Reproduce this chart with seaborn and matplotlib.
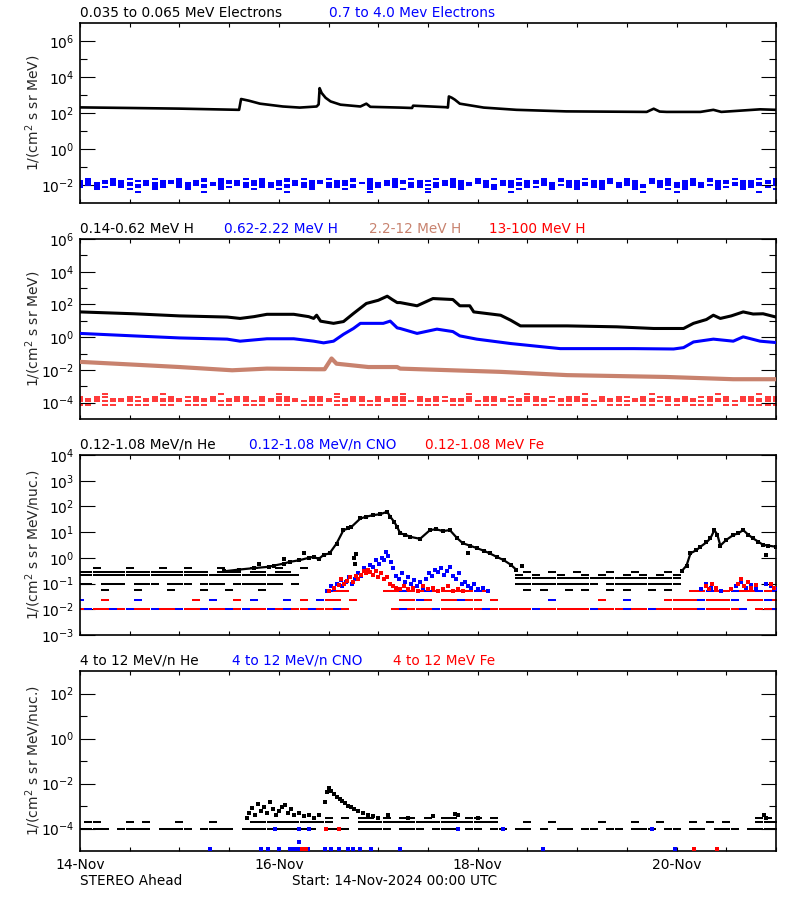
import numpy as np
import pandas as pd
import seaborn as sns
import matplotlib.pyplot as plt
from matplotlib.ticker import FixedLocator, NullFormatter, LogFormatterSciNotation

# time axis: days after 14-Nov-2024 00:00 UTC
DAY_TICKS = [0, 2, 4, 6]
DAY_LABELS = ['14-Nov', '16-Nov', '18-Nov', '20-Nov']
HALF_DAYS = [0.5, 1, 1.5, 2.5, 3, 3.5, 4.5, 5, 5.5, 6.5, 7]

# count-level rows are read in 2-hour bins (85 bins, 7 days); '1' = points shown on that level
BIN_T = np.arange(85) / 12

# ---- panel 1: electrons ----
e_low_t = [0, 0.5, 1.0, 1.6, 1.62, 1.7, 1.81, 2.04, 2.21, 2.38, 2.40, 2.41, 2.43, 2.47, 2.52,
           2.62, 2.82, 2.88, 2.92, 3.22, 3.34, 3.35, 3.68, 3.70, 3.71, 3.74, 3.77, 3.82, 4.06,
           4.39, 4.89, 5.70, 5.77, 5.83, 5.9, 6.24, 6.37, 6.45, 6.84, 7.0]
e_low_v = [205, 190, 175, 150, 600, 480, 330, 230, 200, 230, 300, 2400, 1300, 700, 440,
           290, 230, 330, 220, 200, 190, 255, 210, 200, 830, 700, 550, 330, 200,
           150, 123, 115, 173, 120, 115, 115, 150, 115, 160, 150]

e_high_levels = [2.2e-2, 1.6e-2, 1.25e-2, 1.0e-2, 8e-3, 6e-3, 4e-3]
e_high_masks = [
    "010010100100 100101001010 010100100101 001010010100 101001001010 010010100101 001010010010 1",
    "110111011011 101101110110 111011011101 011101101110 110110111011 101110110111 011011101101 1",
    "111111101111 111011111111 101111111011 111111011111 110111111101 111111110111 111101111111 1",
    "111011111110 111111011111 111110111101 111011111111 011111101111 111101111011 111111011110 1",
    "101101010110 110101101011 010110110101 101011010110 011010110101 101101011010 110101101101 0",
    "001000100100 010001000100 100010001001 000100100010 001001000100 100100010001 010001001000 1",
    "000000010000 000100000000 010000000001 000000100000 000010000000 000000001000 100000000010 0",
]

# ---- panel 2: protons ----
h1_t = [0.0, 0.54, 1.0, 1.48, 1.61, 1.75, 1.88, 2.15, 2.30, 2.35, 2.38, 2.42, 2.55, 2.65, 2.75,
        2.88, 3.0, 3.09, 3.14, 3.19, 3.22, 3.39, 3.55, 3.75, 3.82, 3.92, 3.96, 4.23, 4.33, 4.43,
        4.90, 5.40, 5.77, 6.07, 6.17, 6.30, 6.37, 6.44, 6.55, 6.67, 6.77, 6.87, 7.0]
h1_v = [35, 27, 20, 17, 14, 18, 25, 25, 18, 14, 22, 9.5, 7, 9, 28,
        115, 180, 320, 200, 130, 130, 83, 230, 200, 83, 83, 35, 22, 11, 4.9,
        4.9, 4.3, 3.4, 3.4, 7, 12, 22, 14, 20, 35, 26, 27, 17]

h2_t = [0, 0.54, 1.0, 1.48, 1.61, 1.88, 2.15, 2.35, 2.45, 2.55, 2.65, 2.75, 2.82, 3.05, 3.12,
        3.19, 3.22, 3.39, 3.59, 3.75, 3.82, 3.99, 4.33, 4.83, 5.57, 5.97, 6.07, 6.17, 6.37,
        6.57, 6.67, 6.84, 7.0]
h2_v = [1.7, 1.2, 0.9, 0.76, 0.57, 0.8, 0.8, 0.57, 0.45, 0.57, 1.5, 3.4, 7, 7, 9.6,
        3.7, 3.4, 1.7, 3.1, 2.2, 1.2, 0.76, 0.41, 0.2, 0.2, 0.19, 0.23, 0.51, 0.76,
        0.57, 1.05, 0.57, 0.47]

h3_t = [0, 0.54, 1.0, 1.53, 1.88, 2.38, 2.46, 2.53, 2.58, 2.9, 3.19, 3.22, 4.23, 4.9, 5.9, 6.57, 7.0]
h3_v = [0.031, 0.021, 0.015, 0.0095, 0.012, 0.011, 0.011, 0.05, 0.024, 0.015, 0.015, 0.012,
        0.0076, 0.0048, 0.0037, 0.0027, 0.0027]

h4_levels = [3.2e-4, 2.2e-4, 1.6e-4, 1.2e-4, 6.8e-5]
h4_masks = [
    "000100000010 000001000000 100000010000 000100000001 000000100000 010000000100 000001000010 0",
    "101100110101 011010011010 110011010110 101101011001 011010110101 100101101011 010110101101 1",
    "111011101111 101110111011 111011101110 111101110111 011101111011 110111011101 111011101111 1",
    "111111111111 111111111111 111111111111 111111111111 111111111111 111111111111 111111111111 1",
    "110110111011 011101101110 110111011011 101101110110 111011011011 011011101101 101110110111 1",
]

# ---- panel 3: 0.12-1.08 MeV/n heavy ions ----
he_quiet_levels = [0.4, 0.29, 0.21, 0.16, 0.1, 0.055]
he_quiet_masks = [
    "001000100010 010001000100 100100000000 000000000000 000000000000 000000000000 000000000000 0",
    "111111111111 111101110110 110000000000 000000000000 000000100100 100010010001 000000000000 0",
    "111111111111 111111111111 111000000000 000000000000 000001010010 010100101010 100000000000 0",
    "000000000000 000000000000 000000000000 000000000000 000001111111 111111111111 100000000000 0",
    "110111011101 110111011111 101000000000 000000000000 000001111111 111011111111 100000000000 0",
    "000100010001 000100100010 000000000000 000000000000 000000101001 010010100101 000000000000 0",
]
he_ev1_t = [1.45, 1.6, 1.75, 1.9, 1.95, 2.05, 2.11, 2.2, 2.3, 2.35, 2.4, 2.45, 2.51, 2.58, 2.65,
            2.70, 2.73, 2.82, 2.88, 2.95, 3.02, 3.09, 3.12, 3.16, 3.19, 3.22, 3.27, 3.32, 3.42,
            3.52, 3.58, 3.65, 3.72, 3.79, 3.85, 3.92, 3.99, 4.06, 4.12, 4.19, 4.26, 4.33, 4.39]
he_ev1_v = [0.3, 0.35, 0.4, 0.45, 0.5, 0.6, 0.7, 0.8, 1.0, 1.1, 0.9, 1.3, 1.5, 3.6, 12,
            14, 16, 34, 40, 46, 50, 62, 40, 25, 16, 9, 8, 6.6, 5.5,
            12, 13, 11, 12, 6, 3.7, 3.0, 2.4, 1.9, 1.5, 1.1, 0.82, 0.55, 0.34]
he_ev2_t = [6.05, 6.1, 6.14, 6.2, 6.24, 6.3, 6.34, 6.38, 6.41, 6.44, 6.5, 6.57, 6.62, 6.67,
            6.72, 6.77, 6.82, 6.87, 6.92, 7.0]
he_ev2_v = [0.3, 0.5, 1.5, 2.0, 2.7, 4, 5.7, 12, 8, 3, 5, 7.7, 9, 12, 8, 5.7, 4.3, 3.2, 3.0, 2.7]
he_stray = [(2.76, 1.0), (2.77, 0.6), (2.78, 1.4), (2.05, 0.9), (2.25, 1.6), (1.8, 0.6),
            (6.9, 1.3), (4.45, 0.5), (3.9, 1.6)]

ion_levels = [5e-2, 2.3e-2, 1.05e-2]
fe_masks = [
    "000000000000 000000000000 000000111000 011111111111 110000000000 000000000000 001101111111 1",
    "000100000000 001000010000 000100110100 000110101101 101000000000 000100000001 111011110111 1",
    "101101011011 011011010110 101101101000 001111111111 111111101111 111111111111 111011111011 1",
]
cno_masks = [
    "000000000000 000000000000 000000100000 000100100000 100000000000 000000000000 000010010010 1",
    "100000010000 000010000100 010001000000 000001000010 000000000100 000000100000 000100010001 0",
    "010010100100 100100101001 010010010000 000100010000 010000010000 001000100100 000100001000 1",
]
cno_event = [(2.48, 0.05), (2.52, 0.08), (2.55, 0.06), (2.58, 0.1), (2.62, 0.14), (2.64, 0.08),
             (2.68, 0.12), (2.71, 0.18), (2.74, 0.1), (2.77, 0.15), (2.8, 0.25), (2.83, 0.2),
             (2.86, 0.4), (2.89, 0.3), (2.92, 0.55), (2.95, 0.45), (2.98, 0.8), (3.01, 0.6),
             (3.04, 1.0), (3.06, 0.8), (3.08, 1.7), (3.1, 1.2), (3.13, 0.7), (3.15, 0.4),
             (3.18, 0.2), (3.21, 0.15), (3.24, 0.25), (3.27, 0.12), (3.3, 0.18), (3.33, 0.1),
             (3.36, 0.14), (3.39, 0.08), (3.42, 0.12), (3.45, 0.07), (3.48, 0.15), (3.51, 0.25),
             (3.54, 0.2), (3.57, 0.35), (3.6, 0.28), (3.63, 0.4), (3.66, 0.22), (3.69, 0.32),
             (3.72, 0.45), (3.75, 0.2), (3.78, 0.15), (3.81, 0.25), (3.84, 0.1), (3.87, 0.12),
             (3.9, 0.08), (3.93, 0.07), (3.96, 0.1), (4.0, 0.06), (4.05, 0.07), (4.1, 0.05),
             (6.25, 0.06), (6.3, 0.1), (6.35, 0.07), (6.45, 0.05), (6.6, 0.08), (6.65, 0.12),
             (6.7, 0.07), (6.75, 0.09), (6.8, 0.06), (6.9, 0.1), (6.95, 0.08), (7.0, 0.06)]
fe_event = [(2.5, 0.05), (2.55, 0.07), (2.6, 0.09), (2.63, 0.15), (2.66, 0.1), (2.69, 0.13),
            (2.72, 0.18), (2.75, 0.12), (2.78, 0.2), (2.8, 0.15), (2.83, 0.22), (2.86, 0.3),
            (2.88, 0.25), (2.9, 0.35), (2.92, 0.28), (2.95, 0.22), (2.98, 0.3), (3.0, 0.18),
            (3.03, 0.25), (3.06, 0.15), (3.09, 0.18), (3.12, 0.1), (3.15, 0.08), (3.18, 0.07),
            (3.22, 0.06), (3.26, 0.08), (3.3, 0.06), (3.35, 0.07), (3.4, 0.05), (3.45, 0.08),
            (3.5, 0.06), (3.55, 0.07), (3.6, 0.05), (3.65, 0.06), (3.7, 0.08), (3.75, 0.05),
            (3.8, 0.06), (3.85, 0.05),
            (6.3, 0.08), (6.33, 0.06), (6.36, 0.1), (6.4, 0.07), (6.55, 0.06), (6.62, 0.1),
            (6.65, 0.15), (6.68, 0.08), (6.72, 0.12), (6.75, 0.07), (6.8, 0.09), (6.95, 0.1),
            (6.98, 0.07)]

# ---- panel 4: 4-12 MeV/n heavy ions ----
he4_levels = [3e-4, 2e-4, 1e-4]
he4_masks = [
    "000000000000 000000000000 000000101011 010110101101 101000000000 000000000000 000000000011 0",
    "011000101000 100010000111 111111100011 111111111111 111000100100 000100010010 001010100011 1",
    "111101111011 110111101111 111110111011 110111011101 101101101011 011011011101 101101110111 1",
]
he4_event = [(1.68, 3e-4), (1.7, 5e-4), (1.73, 8e-4), (1.76, 4e-4), (1.79, 1.2e-3), (1.82, 6e-4),
             (1.85, 9e-4), (1.88, 5e-4), (1.91, 1.5e-3), (1.94, 7e-4), (1.97, 4e-4), (2.0, 6e-4),
             (2.03, 9e-4), (2.06, 1.1e-3), (2.09, 5e-4), (2.12, 7e-4), (2.15, 4e-4), (2.2, 5e-4),
             (2.25, 3.5e-4), (2.3, 4e-4), (2.35, 3e-4), (2.4, 4e-4),
             (2.46, 1.5e-3), (2.48, 4e-3), (2.5, 6e-3), (2.52, 4.5e-3), (2.55, 3.5e-3),
             (2.58, 2.5e-3), (2.61, 2.1e-3), (2.64, 1.6e-3), (2.67, 1.3e-3), (2.7, 1e-3),
             (2.73, 9e-4), (2.76, 7e-4), (2.8, 6e-4), (2.85, 5e-4), (2.9, 4e-4), (2.95, 3.5e-4),
             (3.0, 3e-4), (3.1, 4e-4), (3.3, 3e-4), (3.55, 3.5e-4), (3.8, 4e-4), (4.0, 3e-4),
             (3.77, 4.5e-4), (6.88, 4e-4), (6.9, 3e-4)]
cno4_points = [(1.31, 1.2e-5), (1.82, 1.2e-5), (1.89, 1.2e-5), (2.0, 1.2e-5), (2.11, 1.2e-5),
               (2.15, 1.2e-5), (2.19, 1.2e-5), (2.29, 1.2e-5), (2.46, 1.2e-5), (2.52, 1.2e-5),
               (2.60, 1.2e-5), (2.70, 1.2e-5), (2.75, 1.2e-5), (2.82, 1.2e-5), (2.93, 1.2e-5),
               (3.22, 1.2e-5), (4.66, 1.2e-5), (5.98, 1.2e-5), (2.2, 2.5e-5),
               (1.96, 1e-4), (2.2, 1e-4), (2.3, 1e-4), (3.8, 1e-4), (4.25, 1e-4), (5.75, 1e-4)]
fe4_points = [(2.23, 1.2e-5), (2.27, 1.2e-5), (6.18, 1.2e-5), (6.41, 1.2e-5),
              (2.47, 1e-4), (2.6, 1e-4)]

BLUE = '#0000FF'
RED = '#FF0000'
BROWN = '#C8826E'

sns.set_theme(style='ticks', rc={'axes.edgecolor': 'black', 'xtick.color': 'black',
                                 'ytick.color': 'black', 'axes.linewidth': 1.2})
plt.rcParams['font.family'] = ['DejaVu Sans']

W, H = 800, 900
fig = plt.figure(figsize=(8, 9), dpi=100)


def level_points(levels, masks):
    rows = []
    for lev, m in zip(levels, masks):
        m = m.replace(' ', '')[:85]
        for i, c in enumerate(m):
            if c == '1':
                rows.append((BIN_T[i], lev))
    return pd.DataFrame(rows, columns=['t', 'flux'])


def dashes(ax, levels, masks, color, z=2, lw=1.45, s=26):
    df = level_points(levels, masks)
    sns.scatterplot(data=df, x='t', y='flux', marker='_', s=s, linewidth=lw,
                    color=color, ax=ax, zorder=z, legend=False, antialiased=False)


def trace(ax, t, v, color, lw=2.0, z=3):
    sns.lineplot(x=t, y=v, color=color, lw=lw, ax=ax, estimator=None, sort=False, zorder=z)


def dots(ax, pts, color, z=4, s=6):
    df = pd.DataFrame(pts, columns=['t', 'flux'])
    sns.scatterplot(data=df, x='t', y='flux', marker='s', s=s, linewidth=0,
                    color=color, ax=ax, zorder=z, legend=False, antialiased=False)


def make_axes(top_px, ylim, major, minor, ylabel, bottom=False):
    ax = fig.add_axes([80 / W, 1 - (top_px + 180) / H, 696 / W, 180 / H])
    ax.set_yscale('log')
    ax.set_ylim(*ylim)
    ax.set_xlim(0, 7)
    ax.yaxis.set_major_locator(FixedLocator(major))
    ax.yaxis.set_minor_locator(FixedLocator(minor))
    ax.yaxis.set_major_formatter(LogFormatterSciNotation())
    ax.yaxis.set_minor_formatter(NullFormatter())
    ax.set_xticks(DAY_TICKS, labels=DAY_LABELS if bottom else [''] * 4)
    ax.xaxis.set_minor_locator(FixedLocator(HALF_DAYS))
    ax.tick_params(axis='y', which='major', direction='in', length=11, width=0.8,
                   left=True, right=True, labelsize=10, pad=4)
    ax.tick_params(axis='y', which='minor', direction='in', length=5, width=0.8,
                   left=True, right=True)
    ax.tick_params(axis='x', which='both', direction='in', length=3, width=0.8,
                   top=True, bottom=True, labelsize=10, pad=5)
    fig.text(33 / W, 1 - (top_px + 90) / H, ylabel, rotation=90, ha='center', va='center',
             fontsize=10)
    return ax


def label(px, py, s, color='black'):
    fig.text(px / W, 1 - py / H, s, color=color, fontsize=9.8, ha='left', va='center')


# panel 1
ax1 = make_axes(23, (1e-3, 1e7), [1e-2, 1e0, 1e2, 1e4, 1e6], [1e-1, 1e1, 1e3, 1e5],
                '1/(cm$^2$ s sr MeV)')
trace(ax1, e_low_t, e_low_v, 'black', lw=1.9)
dashes(ax1, e_high_levels, e_high_masks, BLUE, lw=1.45, s=14)
label(80, 13, '0.035 to 0.065 MeV Electrons')
label(329, 13, '0.7 to 4.0 Mev Electrons', BLUE)

# panel 2
ax2 = make_axes(239, (1e-5, 1e6), [1e-4, 1e-2, 1e0, 1e2, 1e4, 1e6],
                [1e-3, 1e-1, 1e1, 1e3, 1e5], '1/(cm$^2$ s sr MeV)')
trace(ax2, h1_t, h1_v, 'black', lw=2.2)
trace(ax2, h2_t, h2_v, BLUE, lw=2.2)
trace(ax2, h3_t, h3_v, BROWN, lw=3.0)
dashes(ax2, h4_levels, h4_masks, RED, lw=1.1, s=24)
label(80, 229, '0.14-0.62 MeV H')
label(224, 229, '0.62-2.22 MeV H', BLUE)
label(369, 229, '2.2-12 MeV H', BROWN)
label(489, 229, '13-100 MeV H', RED)

# panel 3
ax3 = make_axes(455, (1e-3, 1e4), [1e-3, 1e-2, 1e-1, 1e0, 1e1, 1e2, 1e3, 1e4], [],
                '1/(cm$^2$ s sr MeV/nuc.)')
dashes(ax3, he_quiet_levels, he_quiet_masks, 'black')
trace(ax3, he_ev1_t, he_ev1_v, 'black', lw=1.6)
trace(ax3, he_ev2_t, he_ev2_v, 'black', lw=1.6)
dots(ax3, list(zip(he_ev1_t, he_ev1_v)) + list(zip(he_ev2_t, he_ev2_v)) + he_stray, 'black', s=9)
dashes(ax3, ion_levels, fe_masks, RED)
dashes(ax3, ion_levels, cno_masks, BLUE)
dots(ax3, cno_event, BLUE)
dots(ax3, fe_event, RED)
label(80, 445, '0.12-1.08 MeV/n He')
label(249, 445, '0.12-1.08 MeV/n CNO', BLUE)
label(425, 445, '0.12-1.08 MeV Fe', RED)

# panel 4
ax4 = make_axes(671, (1e-5, 1e3), [1e-4, 1e-2, 1e0, 1e2], [1e-3, 1e-1, 1e1],
                '1/(cm$^2$ s sr MeV/nuc.)', bottom=True)
dashes(ax4, he4_levels, he4_masks, 'black')
dots(ax4, he4_event, 'black')
dots(ax4, cno4_points, BLUE)
dots(ax4, fe4_points, RED)
label(80, 661, '4 to 12 MeV/n He')
label(232, 661, '4 to 12 MeV/n CNO', BLUE)
label(393, 661, '4 to 12 MeV Fe', RED)

label(80, 881, 'STEREO Ahead')
label(292, 881, 'Start: 14-Nov-2024 00:00 UTC')

# seaborn names the axes after the data columns; the reference has none
for ax in (ax1, ax2, ax3, ax4):
    ax.set_xlabel('')
    ax.set_ylabel('')

fig.savefig('out.png', dpi=100)
